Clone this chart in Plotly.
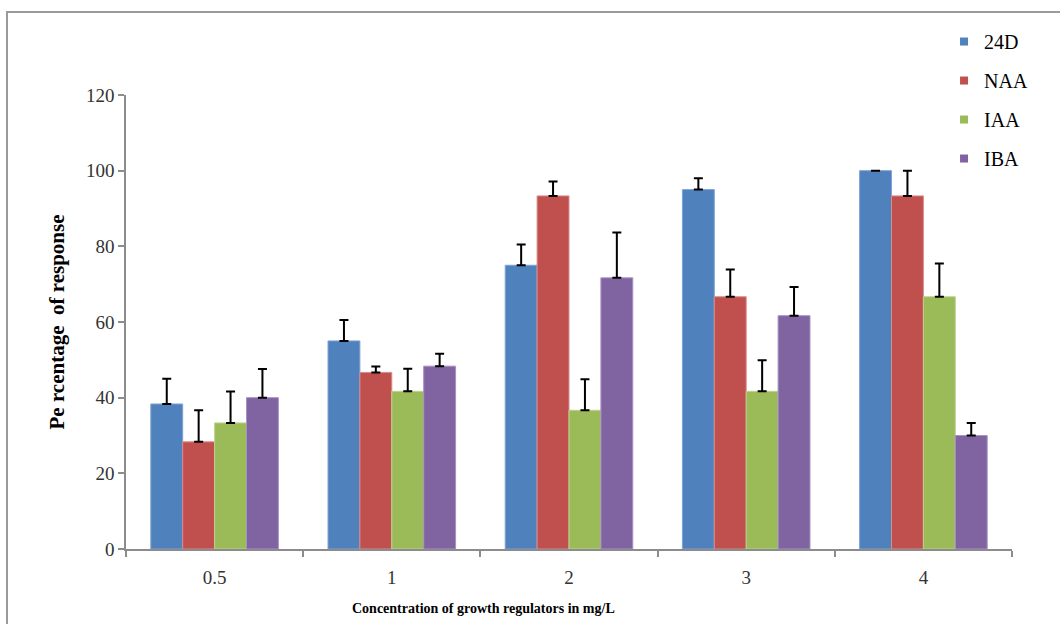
import plotly.graph_objects as go

categories = ["0.5", "1", "2", "3", "4"]
series_names = ["24D", "NAA", "IAA", "IBA"]
val_24d = [38.33, 55.0, 75.0, 95.0, 100.0]
val_naa = [28.33, 46.67, 93.33, 66.67, 93.33]
val_iaa = [33.33, 41.67, 36.67, 41.67, 66.67]
val_iba = [40.0, 48.33, 71.67, 61.67, 30.0]
err_24d = [6.67, 5.5, 5.5, 3.0, 0.0]
err_naa = [8.33, 1.6, 3.8, 7.2, 6.67]
err_iaa = [8.33, 6.0, 8.2, 8.2, 8.8]
err_iba = [7.6, 3.3, 12.0, 7.6, 3.3]
y_ticks = [0, 20, 40, 60, 80, 100, 120]

values = [val_24d, val_naa, val_iaa, val_iba]
errors = [err_24d, err_naa, err_iaa, err_iba]
colors = ["#4F81BD", "#C0504D", "#9BBB59", "#8064A2"]
edges = ["#7EA3D4", "#D98C8A", "#BCD38F", "#A891C3"]

serif = "Liberation Serif, Times New Roman, serif"

fig = go.Figure()
for name, v, e, c, ec in zip(series_names, values, errors, colors, edges):
    fig.add_trace(go.Bar(
        x=categories, y=v, name=name, showlegend=False,
        marker=dict(color=c, line=dict(color=ec, width=1)),
        error_y=dict(type="data", symmetric=False, array=e,
                     arrayminus=[0] * len(e), color="black",
                     thickness=2, width=4.5),
    ))
for name, c in zip(series_names, colors):
    fig.add_trace(go.Scatter(
        x=[None], y=[None], mode="markers", name=name,
        legendgroup=name,
        marker=dict(symbol="square", size=8, color=c),
    ))

fig.update_layout(
    width=1060, height=624,
    margin=dict(l=126, r=48, t=95, b=75, autoexpand=False),
    paper_bgcolor="white", plot_bgcolor="white",
    barmode="group", bargap=0.28, bargroupgap=0,
    font=dict(family=serif, size=16, color="#222"),
    legend=dict(xref="container", yref="container",
                x=0.8906, xanchor="left", y=0.9647, yanchor="top",
                font=dict(family=serif, size=20, color="black"),
                traceorder="grouped", tracegroupgap=10,
                itemwidth=30, bgcolor="rgba(0,0,0,0)"),
    xaxis=dict(showline=True, linecolor="#8C8C8C", linewidth=1.5,
               ticks="outside", tickson="boundaries", ticklen=6,
               tickcolor="#8C8C8C", tickwidth=1.5,
               ticklabelstandoff=10,
               tickfont=dict(family=serif, size=19, color="#333"),
               showgrid=False),
    yaxis=dict(range=[0, 120], tickvals=y_ticks, showline=True,
               linecolor="#8C8C8C", linewidth=1.5, ticks="outside",
               ticklen=6, tickcolor="#8C8C8C", tickwidth=1.5,
               tickfont=dict(family=serif, size=19, color="#333"),
               showgrid=False, zeroline=False,
               title=dict(text="<b>Pe rcentage  of response</b>",
                          font=dict(family=serif, size=21, color="black"),
                          standoff=16)),
    shapes=[dict(type="rect", xref="paper", yref="paper",
                 x0=-0.1343, x1=1.2, y0=-0.3, y1=1.1828,
                 line=dict(color="#9A9A9A", width=2), layer="below")],
    annotations=[dict(text="<b>Concentration of growth regulators in mg/L</b>",
                      xref="paper", yref="paper", x=0.404, y=-0.130,
                      xanchor="center", yanchor="middle", showarrow=False,
                      font=dict(family=serif, size=14, color="black"))],
)

fig.write_html("out.html", config={"displayModeBar": False},
               post_script="document.body.style.margin='0';")
